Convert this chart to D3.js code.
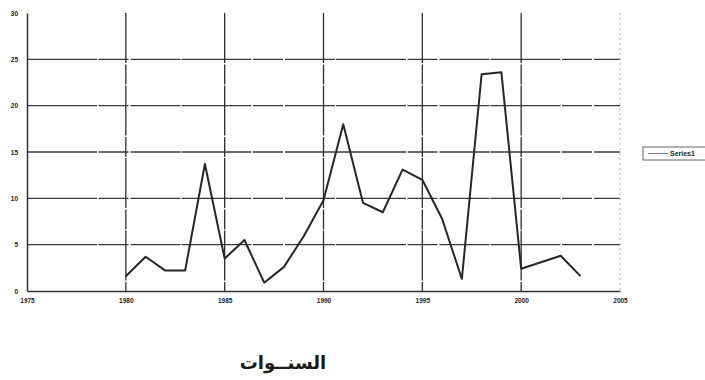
<!DOCTYPE html>
<html>
<head>
<meta charset="utf-8">
<script src="https://cdn.jsdelivr.net/npm/d3@7"></script>
<style>
  html, body { margin: 0; padding: 0; background: #fff; }
  svg { display: block; }
</style>
</head>
<body>
<svg id="chart" width="705" height="380"></svg>
<script>
const years = [1980,1981,1982,1983,1984,1985,1986,1987,1988,1989,1990,1991,1992,1993,1994,1995,1996,1997,1998,1999,2000,2001,2002,2003];
const values = [1.6,3.7,2.2,2.2,13.7,3.5,5.5,0.9,2.6,5.9,9.8,18.0,9.5,8.5,13.1,12.0,7.8,1.3,23.4,23.6,2.4,3.1,3.8,1.6];
const xTicks = [1975,1980,1985,1990,1995,2000,2005];
const yTicks = [0,5,10,15,20,25,30];
const seriesName = "Series1";
const axisTitle = "السنــوات";

const svg = d3.select("#chart");
const x = d3.scaleLinear().domain([1975, 2005]).range([27, 620]);
const y = d3.scaleLinear().domain([0, 30]).range([291, 13]);

// horizontal gridlines
svg.append("g").selectAll("line").data(yTicks.filter(d => d > 0 && d < 30)).join("line")
  .attr("x1", x(1975)).attr("x2", x(2005))
  .attr("y1", d => y(d)).attr("y2", d => y(d))
  .attr("stroke", "#3a3a3a").attr("stroke-width", 1.3)
  .attr("stroke-dasharray", "70,1.5,30,2,50,1");

// vertical gridlines
svg.append("g").selectAll("line").data(xTicks.filter(d => d > 1975)).join("line")
  .attr("x1", d => x(d)).attr("x2", d => x(d))
  .attr("y1", y(30)).attr("y2", y(0))
  .attr("stroke", d => d === 2005 ? "#9a9a9a" : "#2e2e2e")
  .attr("stroke-width", d => d === 2005 ? 0.8 : 1.3)
  .attr("stroke-dasharray", d => d === 2005 ? "2,3" : "50,1.5,20,1");

// y axis
const yAxis = d3.axisLeft(y).tickValues(yTicks).tickSize(0).tickPadding(9);
const gy = svg.append("g").attr("transform", `translate(${x(1975)},0)`).call(yAxis);
gy.select(".domain").attr("stroke", "#333").attr("stroke-width", 1.5);
gy.selectAll("text").attr("font-family", "Liberation Sans").attr("font-weight", "bold")
  .attr("font-size", 6.5).attr("fill", "#222");

// x axis
const xAxis = d3.axisBottom(x).tickValues(xTicks).tickSize(0).tickPadding(7).tickFormat(d3.format("d"));
const gx = svg.append("g").attr("transform", `translate(0,${y(0)})`).call(xAxis);
gx.select(".domain").attr("stroke", "#333").attr("stroke-width", 1.5);
gx.selectAll("text").attr("font-family", "Liberation Sans").attr("font-weight", "bold")
  .attr("font-size", 6.5).attr("fill", "#222");

// series line
const line = d3.line().x((d, i) => x(years[i])).y(d => y(d));
svg.append("path").datum(values).attr("d", line)
  .attr("fill", "none").attr("stroke", "#262626").attr("stroke-width", 2)
  .attr("stroke-linejoin", "round");

// legend
const lg = svg.append("g").attr("transform", "translate(643,147)");
lg.append("rect").attr("x", 0).attr("y", 0).attr("width", 70).attr("height", 13)
  .attr("fill", "#fff").attr("stroke", "#666").attr("stroke-width", 1);
lg.append("line").attr("x1", 5).attr("x2", 25).attr("y1", 6.5).attr("y2", 6.5)
  .attr("stroke", "#777").attr("stroke-width", 1);
lg.append("text").attr("x", 27).attr("y", 9).attr("font-family", "Liberation Sans")
  .attr("font-weight", "bold").attr("font-size", 7).attr("fill", "#222").text(seriesName);

// axis title
svg.append("text").attr("x", 283).attr("y", 369).attr("text-anchor", "middle")
  .attr("font-family", "DejaVu Sans").attr("font-weight", "bold").attr("font-size", 18)
  .attr("fill", "#1a1a1a").text(axisTitle);
</script>
</body>
</html>
